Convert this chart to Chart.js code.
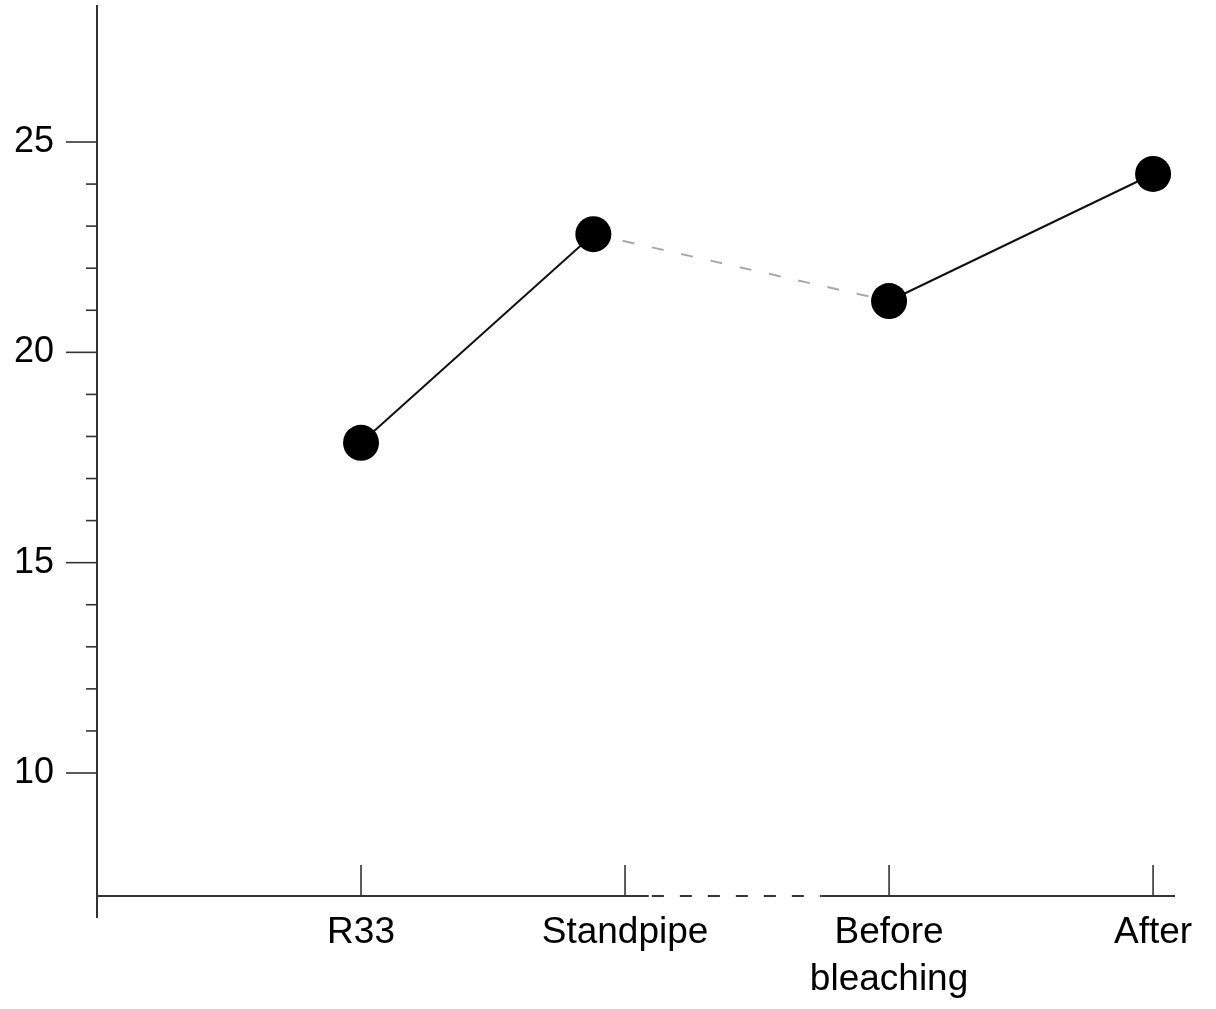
<!DOCTYPE html>
<html lang="en">
<head>
<meta charset="UTF-8">
<title>Sample line chart</title>
<script src="https://cdn.jsdelivr.net/npm/chart.js@4.4.0/dist/chart.umd.min.js"></script>
<style>
  body { margin: 0; background: #fff; }
</style>
</head>
<body>
<canvas id="chart" width="1216" height="1009"></canvas>
<script>
// categories on the x axis (tick positions) and where each point sits
const categories = ['R33', 'Standpipe', ['Before', 'bleaching'], 'After'];
const tickPositions = [0, 1, 2, 3];
const pointPositions = [0, 0.88, 2, 3];
const values = [17.85, 22.81, 21.22, 24.24];

// y axis ticks
const yMajorTicks = [10, 15, 20, 25];
const yMinorTicks = [11, 12, 13, 14, 16, 17, 18, 19, 21, 22, 23, 24];

// the x axis is broken (dashed) between these two values
const axisBreak = [1.09, 1.745];

const FONT = "'Liberation Sans', Arial, sans-serif";
const AXIS_COLOR = '#333';

// draws the axis lines and tick marks using the chart's scales
const axesPlugin = {
  id: 'axes',
  afterDraw(chart) {
    const ctx = chart.ctx;
    const xs = chart.scales.x;
    const ys = chart.scales.y;
    const area = chart.chartArea;
    const x0 = area.left;
    const yb = area.bottom;
    ctx.save();
    ctx.strokeStyle = AXIS_COLOR;
    ctx.lineWidth = 2;

    // y axis line, runs up to near the top and a bit below the x axis
    ctx.beginPath();
    ctx.moveTo(x0, Math.max(area.top - 13, 5));
    ctx.lineTo(x0, yb + 22);
    ctx.stroke();

    // y tick marks
    ctx.lineWidth = 1.6;
    yMajorTicks.forEach(v => {
      const p = ys.getPixelForValue(v);
      ctx.beginPath();
      ctx.moveTo(x0 - 31, p);
      ctx.lineTo(x0, p);
      ctx.stroke();
    });
    yMinorTicks.forEach(v => {
      const p = ys.getPixelForValue(v);
      ctx.beginPath();
      ctx.moveTo(x0 - 11, p);
      ctx.lineTo(x0, p);
      ctx.stroke();
    });

    // x axis: solid, dashed break, solid
    const b0 = xs.getPixelForValue(axisBreak[0]);
    const b1 = xs.getPixelForValue(axisBreak[1]);
    ctx.lineWidth = 2;
    ctx.beginPath();
    ctx.moveTo(x0, yb);
    ctx.lineTo(b0, yb);
    ctx.moveTo(b1, yb);
    ctx.lineTo(area.right, yb);
    ctx.stroke();
    ctx.setLineDash([12, 16]);
    ctx.beginPath();
    ctx.moveTo(b0 + 3, yb);
    ctx.lineTo(b1, yb);
    ctx.stroke();
    ctx.setLineDash([]);

    // x tick marks point up
    ctx.lineWidth = 1.6;
    tickPositions.forEach(v => {
      const p = xs.getPixelForValue(v);
      ctx.beginPath();
      ctx.moveTo(p, yb - 31);
      ctx.lineTo(p, yb);
      ctx.stroke();
    });
    ctx.restore();
  }
};

new Chart(document.getElementById('chart'), {
  type: 'line',
  data: {
    datasets: [{
      data: pointPositions.map((x, i) => ({ x: x, y: values[i] })),
      borderColor: '#111',
      borderWidth: 2,
      pointRadius: 18,
      pointBackgroundColor: '#000',
      pointBorderColor: '#000',
      pointBorderWidth: 0,
      segment: {
        borderColor: c => c.p0DataIndex === 1 ? '#a8a8a8' : '#111',
        borderDash: c => c.p0DataIndex === 1 ? [12, 18] : []
      }
    }]
  },
  options: {
    responsive: false,
    animation: false,
    layout: { padding: { top: 5, right: 41, left: 0, bottom: 0 } },
    plugins: {
      legend: { display: false },
      tooltip: { enabled: false }
    },
    scales: {
      x: {
        type: 'linear',
        min: -1,
        max: 3.083,
        afterBuildTicks: s => { s.ticks = tickPositions.map(v => ({ value: v })); },
        afterFit: s => { s.height = 113; s.paddingLeft = 0; s.paddingRight = 0; },
        grid: { display: false, drawTicks: false },
        border: { display: false },
        ticks: {
          autoSkip: false,
          maxRotation: 0,
          minRotation: 0,
          padding: 14,
          color: '#000',
          font: { family: FONT, size: 37, lineHeight: 1.25 },
          callback: v => categories[tickPositions.indexOf(v)]
        }
      },
      y: {
        min: 7.076,
        max: 27.948,
        afterBuildTicks: s => {
          s.ticks = yMajorTicks.concat(yMinorTicks).sort((a, b) => a - b).map(v => ({ value: v }));
        },
        afterFit: s => { s.width = 97; s.paddingTop = 0; s.paddingBottom = 0; },
        grid: { display: false, drawTicks: false },
        border: { display: false },
        ticks: {
          autoSkip: false,
          padding: 43,
          color: '#000',
          font: { family: FONT, size: 36 },
          callback: v => yMajorTicks.includes(v) ? String(v) : ''
        }
      }
    }
  },
  plugins: [axesPlugin]
});
</script>
</body>
</html>
